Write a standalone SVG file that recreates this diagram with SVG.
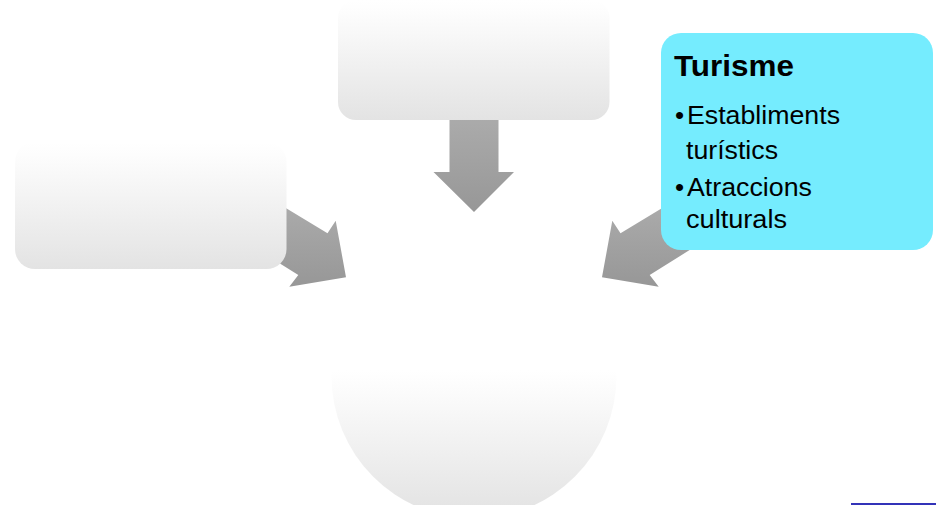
<svg xmlns="http://www.w3.org/2000/svg" width="936" height="505" viewBox="0 0 936 505">
  <defs>
    <linearGradient id="boxGrad" x1="0" y1="0" x2="0" y2="1">
      <stop offset="0" stop-color="#ffffff"/>
      <stop offset="0.1" stop-color="#fdfdfd"/>
      <stop offset="1" stop-color="#e3e3e3"/>
    </linearGradient>
    <linearGradient id="circGrad" x1="0" y1="0" x2="0" y2="1">
      <stop offset="0" stop-color="#ffffff"/>
      <stop offset="0.48" stop-color="#ffffff"/>
      <stop offset="0.56" stop-color="#fbfbfb"/>
      <stop offset="1" stop-color="#e2e2e2"/>
    </linearGradient>
    <linearGradient id="arrowGrad" x1="0" y1="0" x2="0" y2="1">
      <stop offset="0" stop-color="#ababab"/>
      <stop offset="1" stop-color="#979797"/>
    </linearGradient>
  </defs>
  <style>
    .plain { fill: url(#boxGrad); }
    .arrow { fill: url(#arrowGrad); }
    .title { font-family: "Liberation Sans", Arial, sans-serif; font-weight: bold; font-size: 30px; fill: #000; }
    .item { font-family: "Liberation Sans", Arial, sans-serif; font-size: 26px; fill: #000; }
  </style>
  <rect width="936" height="505" fill="#ffffff"/>

  <g id="center-circle">
    <circle cx="474" cy="376" r="142.5" fill="url(#circGrad)"/>
  </g>

  <g id="connectors">
    <polygon class="arrow" points="449.5,118 498.5,118 498.5,172 514,172 474,212 433.5,172 449.5,172"/>
    <polygon class="arrow" points="280,204.4 327.5,233.3 335.7,220.7 346,277.3 289.3,286.7 298.3,275 258,249.8"/>
    <polygon class="arrow" points="668,204.4 620.5,233.3 612.3,220.7 602,277.3 658.7,286.7 649.7,275 690,249.8"/>
  </g>

  <g id="top-box">
    <rect class="plain" x="338" y="0" width="271.5" height="120" rx="18" ry="18"/>
  </g>

  <g id="left-box">
    <rect class="plain" x="15" y="142" width="271.5" height="127" rx="20" ry="20"/>
  </g>

  <g id="turisme-box">
    <rect x="661" y="33" width="272" height="217" rx="20" ry="20" fill="#75ecfe"/>
    <text class="title" x="674" y="76" textLength="120" lengthAdjust="spacingAndGlyphs">Turisme</text>
    <text class="item" x="675" y="124">•</text>
    <text class="item" x="687" y="124" textLength="153" lengthAdjust="spacingAndGlyphs">Establiments</text>
    <text class="item" x="686" y="159" textLength="92" lengthAdjust="spacingAndGlyphs">turístics</text>
    <text class="item" x="675" y="196">•</text>
    <text class="item" x="687" y="196" textLength="125" lengthAdjust="spacingAndGlyphs">Atraccions</text>
    <text class="item" x="686" y="228" textLength="101" lengthAdjust="spacingAndGlyphs">culturals</text>
  </g>

  <rect x="851" y="503" width="85" height="2" fill="#3333b8"/>
</svg>
